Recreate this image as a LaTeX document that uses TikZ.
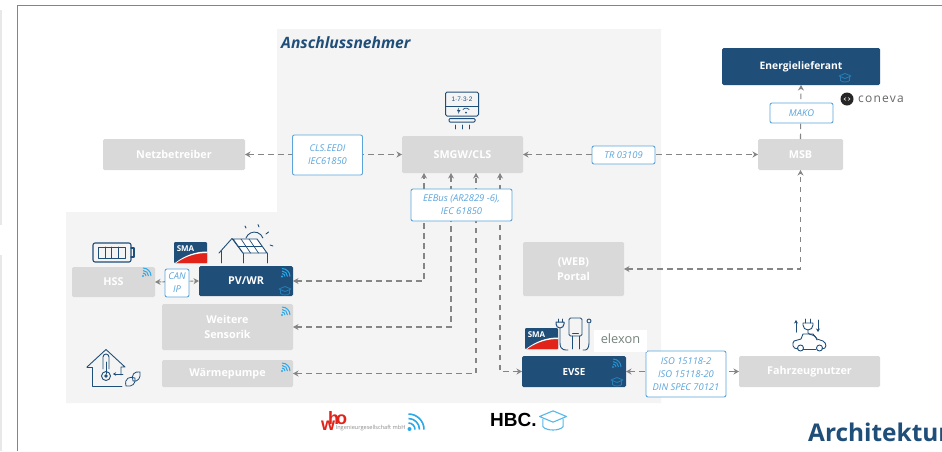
\documentclass[tikz,border=0pt]{standalone}
\usepackage{fontspec}
\setmainfont{Open Sans}
\newfontfamily\liberation{Liberation Sans}
\usetikzlibrary{arrows.meta,calc}
\definecolor{navy}{HTML}{1F4E79}
\definecolor{boxgray}{HTML}{D9D9D9}
\definecolor{zonegray}{HTML}{F4F4F4}
\definecolor{lblue}{HTML}{5BA5DC}
\definecolor{wblue}{HTML}{2AA8E8}
\definecolor{cgray}{HTML}{858585}
\definecolor{smared}{HTML}{E2231A}
\definecolor{elexgray}{HTML}{75837C}
\tikzset{
  x=1pt,y=-1pt,
  graybox/.style={draw=none,fill=boxgray,rounded corners=1.5pt,text=white,font=\fontsize{10.8}{15}\selectfont\bfseries,align=center,inner sep=0pt,outer sep=0pt},
  navybox/.style={graybox,fill=navy},
  lblbox/.style={draw=lblue,line width=0.9pt,fill=white,rounded corners=2pt,text=lblue,font=\fontsize{9.4}{13}\selectfont\itshape,align=center,inner sep=0pt,outer sep=0pt},
  conn/.style={draw=cgray,line width=1.1pt,dash pattern=on 5.5pt off 4.5pt,{Stealth[length=5.5pt,width=6pt]}-{Stealth[length=5.5pt,width=6pt]}},
  connone/.style={draw=cgray,line width=1.1pt,dash pattern=on 5.5pt off 4.5pt,-{Stealth[length=5.5pt,width=6pt]}},
  icon/.style={draw=navy,line width=0.9pt,line join=round,line cap=round},
  wifi/.pic={
    \fill[pic actions] (1,-1) circle[radius=1.1pt];
    \draw[pic actions,line width=1pt,fill=none] (4,-1) arc[start angle=0,end angle=90,radius=3pt];
    \draw[pic actions,line width=1pt,fill=none] (6.5,-1) arc[start angle=0,end angle=90,radius=5.5pt];
    \draw[pic actions,line width=1pt,fill=none] (9,-1) arc[start angle=0,end angle=90,radius=8pt];
  },
  hat/.pic={
    \draw[pic actions,line join=round,fill=none] (-6,-2) -- (0,-4.5) -- (6,-2) -- (0,0.5) -- cycle;
    \draw[pic actions,line join=round,fill=none] (-4.5,-1) -- (-4.5,2.5) .. controls (-3,4.5) and (3,4.5) .. (4.5,2.5) -- (4.5,-1);
  },
  smalogo/.pic={
    \fill[navy,rounded corners=1pt] (0,0) rectangle (33,21);
    \fill[smared] (2,21) .. controls (12,14) and (22,11) .. (33,11) -- (33,21) -- cycle;
    \fill[white] (1,21) .. controls (11,13) and (22,9.5) .. (33,9.5) -- (33,11) .. controls (22,11) and (12,14) .. (2,21) -- cycle;
    \node[text=white,font=\fontsize{8}{9}\selectfont\bfseries,inner sep=0pt] (#1) at (11.5,6.5) {SMA};
  },
}
\begin{document}
\begin{tikzpicture}
\useasboundingbox (0,0) rectangle (942,451);
\fill[white] (0,0) rectangle (942,451);
% page edge and frame
\fill[black!9] (0,10) rectangle (1.5,225);
\fill[black!9] (0,255) rectangle (1.5,451);
\draw[cgray,line width=1pt] (17,451) -- (17,5) -- (942,5);
% zone
\fill[zonegray] (277,29) -- (661,29) -- (661,403) -- (66,403) -- (66,212) -- (277,212) -- cycle;
\node[anchor=west,inner sep=0pt,text=navy,font=\fontsize{15.6}{18}\selectfont\bfseries\itshape] (title) at (281,43) {Anschlussnehmer};

% main boxes
\node[graybox,minimum width=142pt,minimum height=31pt] (netz) at (174,154.5) {Netzbetreiber};
\node[graybox,minimum width=121pt,minimum height=37pt] (smgw) at (462.5,154.5) {SMGW/CLS};
\node[graybox,minimum width=85pt,minimum height=31pt] (msb) at (800.5,154.5) {MSB};
\node[navybox,minimum width=158pt,minimum height=37pt,font=\fontsize{10.3}{14}\selectfont\bfseries] (energie) at (801,66.5) {Energielieferant};
\node[graybox,minimum width=83pt,minimum height=30pt] (hss) at (113.5,282) {HSS};
\node[navybox,minimum width=94pt,minimum height=30pt] (pv) at (246,281) {PV/WR};
\node[graybox,minimum width=131pt,minimum height=46pt] (weitere) at (227.5,327) {Weitere\\Sensorik};
\node[graybox,minimum width=131pt,minimum height=27pt] (waerme) at (227.5,373.5) {Wärmepumpe};
\node[graybox,minimum width=101pt,minimum height=54pt] (portal) at (573.5,269) {(WEB)\\Portal};
\node[navybox,minimum width=104pt,minimum height=31pt,font=\fontsize{9.8}{14}\selectfont\bfseries] (evse) at (574,371.5) {EVSE};
\node[graybox,minimum width=141pt,minimum height=31pt] (fahr) at (809.5,371.5) {Fahrzeugnutzer};

% connectors
\draw[conn] (netz.east) -- (smgw.west);
\draw[conn] (smgw.east) -- (msb.west);
\draw[connone] (msb.north) -- (energie.south);
\draw[conn] (portal.east) -| (msb.south);
\draw[conn] (pv.east) -| ($(smgw.south)+(-38.5,0)$);
\draw[conn] (weitere.east) -| ($(smgw.south)+(-11.5,0)$);
\draw[conn] (waerme.east) -| ($(smgw.south)+(13.5,0)$);
\draw[conn] (evse.west) -| ($(smgw.south)+(37.5,0)$);
\draw[conn,dash pattern=on 3pt off 1pt] (hss.east) -- (pv.west);
\draw[conn] (evse.east) -- (fahr.west);

% label boxes
\node[lblbox,minimum width=70pt,minimum height=40pt] (cls) at (327.5,155) {CLS.EEDI\\IEC61850};
\node[lblbox,minimum width=101pt,minimum height=32pt] (eebus) at (461.5,205) {EEBus (AR2829 -6),\\IEC 61850};
\node[lblbox,minimum width=63pt,minimum height=18pt] (tr) at (623.5,155) {TR 03109};
\node[lblbox,minimum width=63pt,minimum height=20pt] (mako) at (801.5,113) {MAKO};
\node[lblbox,minimum width=24pt,minimum height=28pt] (can) at (177,283) {CAN\\IP};
\node[lblbox,minimum width=80pt,minimum height=46pt] (iso) at (686,374) {ISO 15118-2\\ISO 15118-20\\DIN SPEC 70121};

% wifi marks
\foreach \n/\px/\py in {hssw/142/277,pvw/281/277.5,weiw/281/316,waew/281/372}{
  \pic[wblue] (\n) at (\px,\py) {wifi};
}
\pic[wblue!75!navy] (evsew) at (612,368) {wifi};
% graduation caps
\pic[draw=wblue!55!navy,line width=0.8pt] (pvh) at (285,291) {hat};
\pic[draw=wblue!55!navy,line width=0.8pt] (evh) at (617,382) {hat};
\pic[draw=wblue!55!navy,line width=0.8pt] (enh) at (845,78) {hat};

% battery
\draw[icon,rounded corners=2pt,line width=1.1pt] (93,243) rectangle (131,262);
\draw[icon,line width=1.1pt] (131,248) -- (134,248) -- (134,257) -- (131,257);
\draw[icon,line width=1pt] (98,247) rectangle (125,258);
\foreach \cx in {105,111.5,118}{\draw[icon,line width=1pt] (\cx,247) -- (\cx,258);}

% SMA logos
\pic at (174,242) {smalogo=smaa};
\pic at (525,328) {smalogo=smab};

% house with solar roof
\draw[icon] (219,253) -- (232,238.5) -- (243,253);
\draw[icon] (221,251) -- (221,263);
\draw[icon] (243,253) -- (243,263);
\draw[icon] (267,253) -- (267,263);
\draw[icon,fill=white] (233,239) -- (257,239) -- (267,253) -- (243,253) -- cycle;
\draw[icon,line width=0.7pt] (238,246) -- (262,246);
\draw[icon,line width=0.7pt] (241,239) -- (250.5,253);
\draw[icon,line width=0.7pt] (249,239) -- (258.5,253);
\draw[icon] (246,238) arc[start angle=160,end angle=20,radius=9pt];
\draw[icon] (258,224.5) -- (259,227);
\draw[icon] (266,234) -- (268.5,232);
\draw[icon] (270,245) -- (273,246);
\draw[icon] (246,228) -- (245,226);

% house with thermometer
\draw[icon] (87,367) -- (106,349.5) -- (125,367) -- (121,367) -- (121,375);
\draw[icon] (87,367) -- (92,367) -- (92,386) -- (122,386);
\draw[icon] (103,369) -- (103,357) arc[start angle=180,end angle=0,radius=3pt] -- (109,369);
\draw[icon] (106,376) circle[radius=4.5pt];
\fill[navy] (106,376) circle[radius=1.8pt];
\draw[icon,line width=0.7pt] (106,362) -- (106,374);
\draw[icon,line width=0.8pt,-{Stealth[length=3pt,width=3.5pt]}] (123,374) -- (113,374);
\draw[icon,line width=0.8pt] (126,386) .. controls (124,378) and (130,376) .. (135,378) .. controls (136,384) and (132,387) .. (126,386) -- cycle;
\draw[icon,line width=0.8pt] (133,381) .. controls (131,375) and (134,371) .. (140,372) .. controls (141,378) and (138,382) .. (133,381) -- cycle;

% smart meter
\draw[icon,line width=1pt,rounded corners=1.5pt] (445.5,92) rectangle (478.5,116);
\draw[icon,line width=1pt] (445.5,106) -- (478.5,106);
\node[text=navy,font=\fontsize{6.5}{7}\selectfont\liberation,inner sep=0pt] (metertxt) at (462,99.5) {1·7·3·2};
\fill[navy] (457,111) -- (459,107.5) -- (458.5,110) -- (460.5,110) -- (458,114) -- (458.5,111.5) -- cycle;
\draw[icon,line width=0.7pt] (463,109.5) arc[start angle=140,end angle=40,radius=4pt];
\fill[navy] (466,112.5) circle[radius=1pt];
\draw[icon,line width=1pt,rounded corners=1pt] (449,118.5) rectangle (475,122);
\foreach \tx in {455,462,469}{\draw[icon] (\tx,125) -- (\tx,129);}

% charger
\draw[icon,rounded corners=1.5pt] (569,318) rectangle (582,336);
\draw[icon,line width=0.7pt] (572.5,333.5) -- (578.5,333.5);
\draw[icon] (572,336) -- (572,349);
\draw[icon] (579,336) -- (579,349);
\draw[icon,line width=1pt] (556,322) -- (564,322) -- (564,324) arc[start angle=0,end angle=-180,radius=4pt] -- cycle;
\draw[icon] (558,319) -- (558,322);
\draw[icon] (562,319) -- (562,322);
\draw[icon] (560,328) -- (560,343) .. controls (560,351) and (566,350) .. (568,350);
\draw[icon] (583,350) .. controls (587,351) and (589,348) .. (589,343) -- (589,324);
\draw[icon] (589,321) circle[radius=2pt];

% elexon
\fill[white] (594,330) rectangle (647,352);
\node[text=elexgray,font=\fontsize{12.8}{14}\selectfont,inner sep=0pt] (elexon) at (620.5,339) {elexon};

% car
\draw[icon,line width=1pt,-{Stealth[length=3.5pt,width=4pt]}] (796,332) -- (796,320);
\draw[icon,line width=1pt,-{Stealth[length=3.5pt,width=4pt]}] (818,320) -- (818,332);
\draw[icon] (803,323) -- (813,323) -- (813,325) arc[start angle=0,end angle=-180,radius=5pt] -- cycle;
\draw[icon] (805.5,319) -- (805.5,323);
\draw[icon] (810.5,319) -- (810.5,323);
\draw[icon] (808,330) -- (808,333) .. controls (810,336) and (815,333) .. (817,340);
\draw[icon] (798,349) .. controls (792,349) and (792,343) .. (794,341) -- (801,339) -- (803,334) -- (813,334) -- (817,339) -- (823,341) .. controls (827,343) and (827,349) .. (822,349) ;
\draw[icon] (803,349) -- (816,349);
\draw[icon] (800.5,348) circle[radius=3pt];
\draw[icon] (819.5,348) circle[radius=3pt];

% coneva
\fill[black!85] (847,99) circle[radius=6.5pt];
\draw[white,line width=0.5pt] (846,97.5) -- (844,99) -- (846,100.5);
\draw[white,line width=0.5pt] (848,97.5) -- (850,99) -- (848,100.5);
\node[anchor=west,inner sep=0pt,text=black!60,font=\fontsize{12}{14}\selectfont\addfontfeatures{LetterSpace=10}] (coneva) at (858,99) {coneva};

% who logo
\node[anchor=base west,inner sep=0pt,text=smared,font=\fontsize{18}{19}\selectfont\liberation\bfseries] (who) at (321,430) {w\rlap{\kern-7pt\raisebox{5.5pt}{h}\kern-3pt\raisebox{6pt}{o}}};
\node[anchor=west,inner sep=0pt,text=black!45,font=\fontsize{5.6}{6}\selectfont] (ing) at (335.5,428.5) {Ingenieurgesellschaft mbH};
\fill[wblue] (409.5,429) circle[radius=2pt];
\foreach \rr in {6.5,11,15.5}{\draw[wblue,line width=1.6pt] ($(408.5,429.5)+(\rr,0)$) arc[start angle=0,end angle=90,radius=\rr pt];}

% HBC
\node[anchor=west,inner sep=0pt,text=black,font=\fontsize{19}{21}\selectfont\liberation\bfseries] (hbc) at (490,420) {HBC.};
\pic[draw=wblue!80!white,line width=1.1pt,scale=2.25] (hbch) at (553,421) {hat};

% title bottom right
\node[anchor=base west,inner sep=0pt,text=navy,font=\fontsize{24.4}{28}\selectfont\bfseries] (arch) at (808,441) {Architektur};
\end{tikzpicture}
\end{document}
